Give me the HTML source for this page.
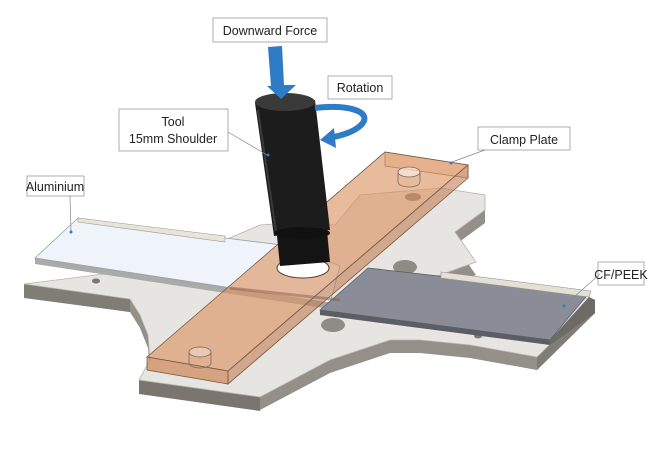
<!DOCTYPE html>
<html><head><meta charset="utf-8"><style>
html,body{margin:0;padding:0;background:#fff;}
svg{display:block;}
text{font-family:"Liberation Sans",sans-serif;font-size:12.5px;fill:#222;}
</style></head><body>
<svg width="670" height="450" viewBox="0 0 670 450" xmlns="http://www.w3.org/2000/svg">
<!-- base side -->
<g transform="translate(0,13)">
<polygon fill="#948f88" points="24,284 200,262 225,240 260,225 300,222 335,225 360,195 441,188 485,195 485,210 455,232 476,262 440,275 595,300 537,357 470,345 420,340 390,340 330,360 260,397 139,380 150,360 148,335 140,315 130,299"/>
</g>
<polygon fill="#807c76" points="24,284 24,298 130,312 130,299"/>
<polygon fill="#807c76" points="537,357 537,370 595,313 595,300"/>
<polygon fill="#7a766f" points="139,380 139,394 260,411 260,397"/>
<!-- base top -->
<polygon fill="#e7e5e1" stroke="#b8b4ae" stroke-width="0.8" points="24,284 200,262 225,240 260,225 300,222 335,225 360,195 441,188 485,195 485,210 455,232 476,262 440,275 595,300 537,357 470,345 420,340 390,340 330,360 260,397 139,380 150,360 148,335 140,315 130,299"/>
<!-- holes -->
<ellipse cx="405" cy="267" rx="12" ry="7" fill="#8f8b85"/>
<ellipse cx="333" cy="325" rx="12" ry="7" fill="#8f8b85"/>
<ellipse cx="96" cy="281" rx="4" ry="2.5" fill="#7a7670"/>
<ellipse cx="478" cy="336" rx="4" ry="2.5" fill="#7a7670"/>
<!-- aluminium -->
<polygon fill="#a9aba9" points="35,258 330,303 330,309 35,264"/>
<polygon fill="#eef4fa" stroke="#9aa0a6" stroke-width="0.8" points="35,258 78,218 225,238 290,246 340,266 330,303"/>
<polygon fill="#e8e4da" stroke="#a09a90" stroke-width="0.6" points="78,218 225,236 225,242 78,222"/>
<!-- CF/PEEK -->
<polygon fill="#5c5e66" points="320,310 550,340 550,345 320,315"/>
<polygon fill="#8a8c97" stroke="#5a5c64" stroke-width="0.8" points="320,310 368,268 589,293 550,340"/>
<polygon fill="#e4e0d8" stroke="#9a958c" stroke-width="0.6" points="441,272 591,291 589,297 441,278"/>
<polygon fill="#6e6a66" points="550,340 589,297 595,300 595,313 550,345"/>
<!-- clamp plate -->
<polygon fill="rgba(230,170,130,0.35)" stroke="#8a6a55" stroke-width="0.8" points="385,152 468,165 468,178 385,166"/>
<polygon fill="rgba(218,145,95,0.62)" stroke="#7a5a45" stroke-width="0.8" points="385,152 468,165 228,371 147,357"/>
<polygon fill="rgba(205,135,90,0.7)" stroke="#7a5a45" stroke-width="0.8" points="147,357 228,371 228,384 147,370"/>
<polygon fill="rgba(195,125,85,0.6)" stroke="#7a5a45" stroke-width="0.8" points="468,165 468,178 228,384 228,371"/>
<line x1="230" y1="288" x2="340" y2="300" stroke="#8a6050" stroke-width="3" opacity="0.5"/>
<!-- pins -->
<g fill="none" stroke="#7a6a5a" stroke-width="0.8">
<ellipse cx="409" cy="172" rx="11" ry="5" fill="rgba(255,255,255,0.5)"/>
<line x1="398" y1="172" x2="398" y2="182"/><line x1="420" y1="172" x2="420" y2="182"/>
<path d="M398,182 A11,5 0 0 0 420,182"/>
<ellipse cx="200" cy="352" rx="11" ry="5" fill="rgba(255,255,255,0.3)"/>
<line x1="189" y1="352" x2="189" y2="363"/><line x1="211" y1="352" x2="211" y2="363"/>
<path d="M189,363 A11,5 0 0 0 211,363"/>
</g>
<ellipse cx="413" cy="197" rx="8" ry="4" fill="#a07050" opacity="0.6"/>
<!-- hole under tool -->
<ellipse cx="303" cy="268" rx="26" ry="10" fill="#fff" stroke="#5a3a2a" stroke-width="1"/>
<!-- tool -->
<polygon fill="#141414" points="277,236 327,231 330,262 280,266"/>
<polygon fill="#1c1c1c" points="255,103 315,100 330,230 274,236"/>
<line x1="258" y1="110" x2="276" y2="232" stroke="#3a3a3a" stroke-width="2"/>
<ellipse cx="302" cy="233" rx="28" ry="6" fill="#111"/>
<ellipse cx="285" cy="102" rx="30" ry="9" fill="#3a3a3a"/>
<!-- rotation arrow -->
<path d="M315,108 C350,104 372,112 362,124 C355,132 340,136 328,138" fill="none" stroke="#2e7cc6" stroke-width="6"/>
<polygon fill="#2e7cc6" points="320,140 334,128 336,148"/>
<!-- down arrow -->
<polygon fill="#2e7cc6" points="268,47 282,46 284,85 296,85 281,99 267,86 271,86"/>
<!-- labels -->
<g fill="#fff" stroke="#999" stroke-width="0.8">
<rect x="213" y="18" width="114" height="24"/>
<rect x="328" y="76" width="64" height="23"/>
<rect x="119" y="109" width="109" height="42"/>
<rect x="478" y="127" width="92" height="23"/>
<rect x="27" y="176" width="57" height="20"/>
<rect x="598" y="262" width="46" height="23"/>
</g>
<text x="270" y="35" text-anchor="middle">Downward Force</text>
<text x="360" y="92" text-anchor="middle">Rotation</text>
<text x="173" y="126" text-anchor="middle">Tool</text>
<text x="173" y="143" text-anchor="middle">15mm Shoulder</text>
<text x="524" y="144" text-anchor="middle">Clamp Plate</text>
<text x="55" y="191" text-anchor="middle">Aluminium</text>
<text x="621" y="279" text-anchor="middle">CF/PEEK</text>
<g stroke="#888" stroke-width="0.7" fill="none">
<line x1="228" y1="132" x2="267" y2="155"/>
<line x1="485" y1="150" x2="452" y2="162"/>
<line x1="70" y1="196" x2="71" y2="231"/>
<line x1="600" y1="274" x2="565" y2="305"/>
</g>
<g fill="#2e7cc6">
<circle cx="268" cy="155" r="1.5"/><circle cx="451" cy="163" r="1.5"/><circle cx="71" cy="232" r="1.5"/><circle cx="564" cy="306" r="1.5"/>
</g>
</svg>
</body></html>
